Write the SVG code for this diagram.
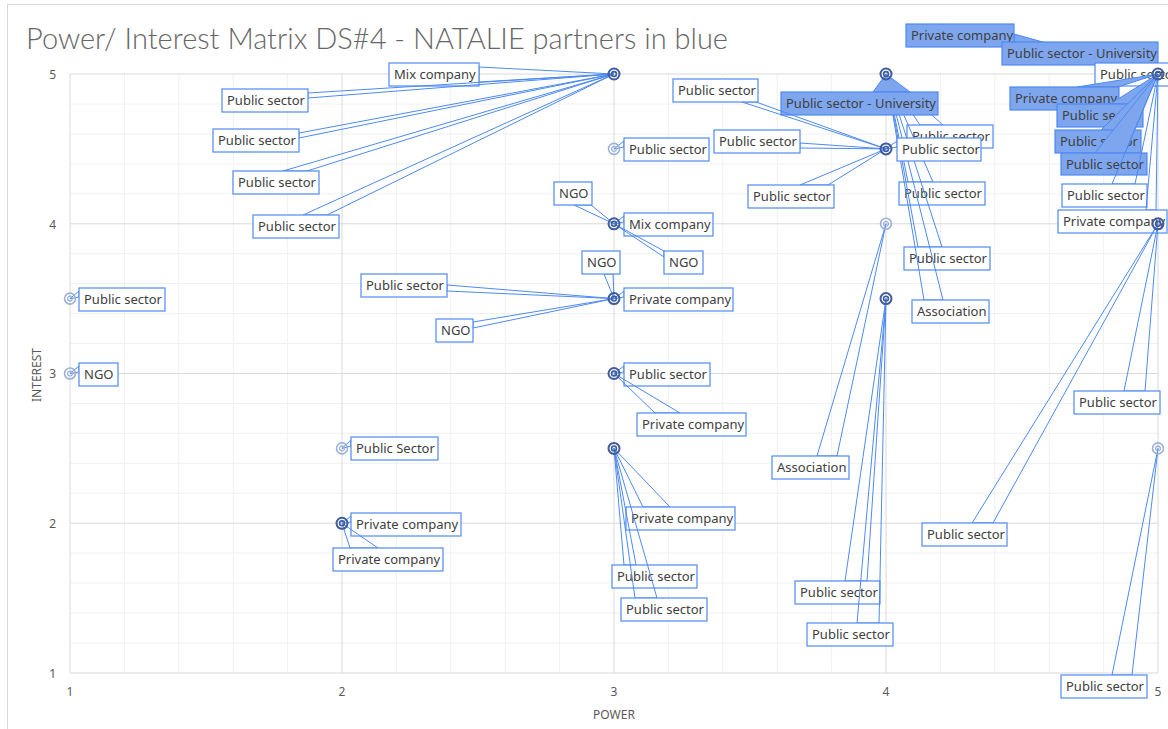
<svg xmlns="http://www.w3.org/2000/svg" xmlns:xlink="http://www.w3.org/1999/xlink" width="1168" height="729" viewBox="0 0 1168 729">
<style>
.w{fill:#fff;stroke:#4d8af0;stroke-width:1.2}
.wp{fill:none;stroke:#4d8af0;stroke-width:1}
.b{fill:#7ea6ee;stroke:#4d8af0;stroke-width:1.2}
.bp{fill:#7ea6ee;stroke:#4d8af0;stroke-width:1}
.t{font-family:"Noto Sans","Liberation Sans",sans-serif;font-size:13px;fill:#404040}
.ax{font-family:"Noto Sans","Liberation Sans",sans-serif;font-size:12px;fill:#595959}
.mi{stroke:#f0f0f0;stroke-width:1;fill:none}
.ma{stroke:#d9d9d9;stroke-width:1;fill:none}
</style>
<defs>
<g id="mL"><circle r="5.5" fill="none" stroke="#9bb1dc" stroke-width="1.6"/><circle r="2.4" fill="none" stroke="#9bb1dc" stroke-width="1.3"/></g>
<g id="mD"><circle r="5.5" fill="none" stroke="#3e5c9e" stroke-width="2"/><circle r="2.4" fill="none" stroke="#3e5c9e" stroke-width="1.6"/></g>
</defs>
<rect x="0" y="0" width="1168" height="729" fill="#fff"/>
<rect x="7.5" y="4.5" width="1200" height="800" fill="#fff" stroke="#d9d9d9"/>
<g id="grid">
<path class="mi" d="M124.4 74V673M178.8 74V673M233.2 74V673M287.6 74V673M396.4 74V673M450.8 74V673M505.2 74V673M559.6 74V673M668.4 74V673M722.8 74V673M777.2 74V673M831.6 74V673M940.4 74V673M994.8 74V673M1049.2 74V673M1103.6 74V673"/>
<path class="mi" d="M70 104H1158M70 134H1158M70 164H1158M70 193.8H1158M70 253.7H1158M70 283.6H1158M70 313.6H1158M70 343.5H1158M70 403.4H1158M70 433.3H1158M70 463.3H1158M70 493.2H1158M70 553.1H1158M70 583H1158M70 613H1158M70 643H1158"/>
<path class="ma" d="M70 74V673M342 74V673M614 74V673M886 74V673M1158 74V673M70 74H1158M70 223.8H1158M70 373.5H1158M70 523.2H1158M70 673H1158"/>
</g>
<text x="26" y="49" font-family="Lato,'Noto Sans','Liberation Sans',sans-serif" font-weight="300" font-size="29" fill="#666666" textLength="702" lengthAdjust="spacingAndGlyphs">Power/ Interest Matrix DS#4 - NATALIE partners in blue</text>
<g id="axes">
<text class="ax" x="56" y="79" text-anchor="end">5</text>
<text class="ax" x="56" y="229" text-anchor="end">4</text>
<text class="ax" x="56" y="378" text-anchor="end">3</text>
<text class="ax" x="56" y="528" text-anchor="end">2</text>
<text class="ax" x="56" y="678" text-anchor="end">1</text>
<text class="ax" x="70" y="696" text-anchor="middle">1</text>
<text class="ax" x="342" y="696" text-anchor="middle">2</text>
<text class="ax" x="614" y="696" text-anchor="middle">3</text>
<text class="ax" x="886" y="696" text-anchor="middle">4</text>
<text class="ax" x="1158" y="696" text-anchor="middle">5</text>
<text class="ax" x="614" y="719" text-anchor="middle" font-size="11">POWER</text>
<text class="ax" transform="translate(41,375) rotate(-90)" text-anchor="middle" font-size="11">INTEREST</text>
</g>
<g id="connectors"></g>
<g id="c01"><polygon class="wp" points="79,291 70,298.6 79,297"/><rect class="w" x="79" y="288" width="86" height="23"/><text class="t" x="84" y="304">Public sector</text></g>
<g id="c02"><polygon class="wp" points="79,366 70,373.5 79,372"/><rect class="w" x="79" y="363" width="39" height="23"/><text class="t" x="84" y="379">NGO</text></g>
<g id="c03"><polygon class="wp" points="351,440 342,448.4 351,446"/><rect class="w" x="351" y="437" width="87" height="23"/><text class="t" x="356" y="453">Public Sector</text></g>
<g id="c04"><polygon class="wp" points="351,516 342,523.3 351,522"/><rect class="w" x="351" y="513" width="110" height="23"/><text class="t" x="356" y="529">Private company</text></g>
<g id="c05"><polygon class="wp" points="350,548 342,523.3 378,548"/><rect class="w" x="333" y="548" width="110" height="23"/><text class="t" x="338" y="564">Private company</text></g>
<g id="c06"><polygon class="wp" points="479,67 614,74 479,82"/><rect class="w" x="389" y="63" width="90" height="23"/><text class="t" x="394" y="79">Mix company</text></g>
<g id="c07"><polygon class="wp" points="308,93 614,74 308,98"/><rect class="w" x="222" y="89" width="86" height="23"/><text class="t" x="227" y="105">Public sector</text></g>
<g id="c08"><polygon class="wp" points="299,133 614,74 299,138"/><rect class="w" x="213" y="129" width="86" height="23"/><text class="t" x="218" y="145">Public sector</text></g>
<g id="c09"><polygon class="wp" points="283,171 614,74 307,171"/><rect class="w" x="233" y="171" width="86" height="23"/><text class="t" x="238" y="187">Public sector</text></g>
<g id="c10"><polygon class="wp" points="303,215 614,74 327,215"/><rect class="w" x="253" y="215" width="86" height="23"/><text class="t" x="258" y="231">Public sector</text></g>
<g id="c11"><polygon class="wp" points="624,141 614,148.9 624,147"/><rect class="w" x="624" y="138" width="85" height="23"/><text class="t" x="629" y="154">Public sector</text></g>
<g id="c12"><polygon class="wp" points="574,205 614,223.8 591,205"/><rect class="w" x="554" y="182" width="38" height="23"/><text class="t" x="559" y="198">NGO</text></g>
<g id="c13"><polygon class="wp" points="624,216 614,223.8 624,222"/><rect class="w" x="624" y="213" width="89" height="23"/><text class="t" x="629" y="229">Mix company</text></g>
<g id="c14"><polygon class="wp" points="664,251 614,223.8 664,257"/><rect class="w" x="664" y="251" width="39" height="23"/><text class="t" x="669" y="267">NGO</text></g>
<g id="c15"><polygon class="wp" points="604,274 614,298.6 613,274"/><rect class="w" x="582" y="251" width="38" height="23"/><text class="t" x="587" y="267">NGO</text></g>
<g id="c16"><polygon class="wp" points="447,285 614,298.6 447,291"/><rect class="w" x="361" y="274" width="86" height="23"/><text class="t" x="366" y="290">Public sector</text></g>
<g id="c17"><polygon class="wp" points="624,291 614,298.6 624,297"/><rect class="w" x="624" y="288" width="109" height="23"/><text class="t" x="629" y="304">Private company</text></g>
<g id="c18"><polygon class="wp" points="473,322 614,298.6 473,328"/><rect class="w" x="436" y="319" width="37" height="23"/><text class="t" x="441" y="335">NGO</text></g>
<g id="c19"><polygon class="wp" points="624,366 614,373.5 624,372"/><rect class="w" x="624" y="363" width="86" height="23"/><text class="t" x="629" y="379">Public sector</text></g>
<g id="c20"><polygon class="wp" points="655,413 614,373.5 680,413"/><rect class="w" x="637" y="413" width="109" height="23"/><text class="t" x="642" y="429">Private company</text></g>
<g id="c21"><polygon class="wp" points="643,507 614,448.4 670,507"/><rect class="w" x="626" y="507" width="109" height="23"/><text class="t" x="631" y="523">Private company</text></g>
<g id="c22"><polygon class="wp" points="624,565 614,448.4 636,565"/><rect class="w" x="612" y="565" width="85" height="23"/><text class="t" x="617" y="581">Public sector</text></g>
<g id="c23"><polygon class="wp" points="635,598 614,448.4 657,598"/><rect class="w" x="621" y="598" width="86" height="23"/><text class="t" x="626" y="614">Public sector</text></g>
<g id="c24"><polygon class="wp" points="920,125 886,74 943,125"/><rect class="w" x="907" y="125" width="86" height="23"/><text class="t" x="912" y="141">Public sector</text></g>
<g id="c25"><polygon class="wp" points="908,182 886,74 933,182"/><rect class="w" x="899" y="182" width="86" height="23"/><text class="t" x="904" y="198">Public sector</text></g>
<g id="c26"><polygon class="wp" points="918,247 886,74 942,247"/><rect class="w" x="904" y="247" width="86" height="23"/><text class="t" x="909" y="263">Public sector</text></g>
<g id="c27"><polygon class="wp" points="924,300 886,74 943,300"/><rect class="w" x="912" y="300" width="77" height="23"/><text class="t" x="917" y="316">Association</text></g>
<g id="c28"><polygon class="bp" points="873,92 886,74 910,92"/><rect class="b" x="781" y="92" width="157" height="23"/><text class="t" x="786" y="108">Public sector - University</text></g>
<g id="c29"><polygon class="wp" points="742,102 886,148.9 756,102"/><rect class="w" x="673" y="79" width="85" height="23"/><text class="t" x="678" y="95">Public sector</text></g>
<g id="c30"><polygon class="wp" points="800,143 886,148.9 800,148"/><rect class="w" x="714" y="130" width="86" height="23"/><text class="t" x="719" y="146">Public sector</text></g>
<g id="c31"><polygon class="wp" points="800,185 886,148.9 828,185"/><rect class="w" x="748" y="185" width="86" height="23"/><text class="t" x="753" y="201">Public sector</text></g>
<g id="c32"><polygon class="wp" points="897,141 886,148.9 897,147"/><rect class="w" x="897" y="138" width="84" height="23"/><text class="t" x="902" y="154">Public sector</text></g>
<g id="c33"><polygon class="wp" points="817,456 886,223.8 837,456"/><rect class="w" x="772" y="456" width="77" height="23"/><text class="t" x="777" y="472">Association</text></g>
<g id="c34"><polygon class="wp" points="845,581 886,298.6 867,581"/><rect class="w" x="795" y="581" width="85" height="23"/><text class="t" x="800" y="597">Public sector</text></g>
<g id="c35"><polygon class="wp" points="857,623 886,298.6 879,623"/><rect class="w" x="807" y="623" width="86" height="23"/><text class="t" x="812" y="639">Public sector</text></g>
<g id="c36"><polygon class="bp" points="1014,34 1158,74 1014,45"/><rect class="b" x="906" y="24" width="108" height="23"/><text class="t" x="911" y="40">Private company</text></g>
<g id="c37"><polygon class="bp" points="1133,65 1158,74 1152,65"/><rect class="b" x="1002" y="42" width="156" height="23"/><text class="t" x="1007" y="58">Public sector - University</text></g>
<g id="c38"><rect class="w" x="1095" y="63" width="86" height="23"/><text class="t" x="1100" y="79">Public sector</text></g>
<g id="c39"><polygon class="bp" points="1077,87 1158,74 1118,87"/><rect class="b" x="1010" y="87" width="109" height="23"/><text class="t" x="1015" y="103">Private company</text></g>
<g id="c40"><polygon class="bp" points="1110,104 1158,74 1140,104"/><rect class="b" x="1057" y="104" width="86" height="23"/><text class="t" x="1062" y="120">Public sector</text></g>
<g id="c41"><polygon class="bp" points="1100,131 1158,74 1130,131"/><rect class="b" x="1055" y="130" width="86" height="23"/><text class="t" x="1060" y="146">Public sector</text></g>
<g id="c42"><polygon class="bp" points="1095,153 1158,74 1125,153"/><rect class="b" x="1061" y="153" width="86" height="22"/><text class="t" x="1066" y="169">Public sector</text></g>
<g id="c43"><polygon class="wp" points="1112,184 1158,74 1135,184"/><rect class="w" x="1062" y="184" width="85" height="23"/><text class="t" x="1067" y="200">Public sector</text></g>
<g id="c44"><polygon class="wp" points="1146,210 1158,74 1156,210"/><rect class="w" x="1058" y="210" width="109" height="23"/><text class="t" x="1063" y="226">Private company</text></g>
<g id="c45"><polygon class="wp" points="1124,391 1158,223.8 1145,391"/><rect class="w" x="1074" y="391" width="86" height="23"/><text class="t" x="1079" y="407">Public sector</text></g>
<g id="c46"><polygon class="wp" points="972,523 1158,223.8 993,523"/><rect class="w" x="922" y="523" width="85" height="23"/><text class="t" x="927" y="539">Public sector</text></g>
<g id="c47"><polygon class="wp" points="1112,675 1158,448.4 1132,675"/><rect class="w" x="1061" y="675" width="86" height="23"/><text class="t" x="1066" y="691">Public sector</text></g>
<g id="markers">
<use xlink:href="#mL" x="70" y="298.6"/>
<use xlink:href="#mL" x="70" y="373.5"/>
<use xlink:href="#mL" x="342" y="448.4"/>
<use xlink:href="#mD" x="342" y="523.3"/>
<use xlink:href="#mD" x="614" y="74"/>
<use xlink:href="#mL" x="614" y="148.9"/>
<use xlink:href="#mD" x="614" y="223.8"/>
<use xlink:href="#mD" x="614" y="298.6"/>
<use xlink:href="#mD" x="614" y="373.5"/>
<use xlink:href="#mD" x="614" y="448.4"/>
<use xlink:href="#mD" x="886" y="74"/>
<use xlink:href="#mD" x="886" y="148.9"/>
<use xlink:href="#mL" x="886" y="223.8"/>
<use xlink:href="#mD" x="886" y="298.6"/>
<use xlink:href="#mD" x="1158" y="74"/>
<use xlink:href="#mD" x="1158" y="223.8"/>
<use xlink:href="#mL" x="1158" y="448.4"/>
</g>
</svg>
